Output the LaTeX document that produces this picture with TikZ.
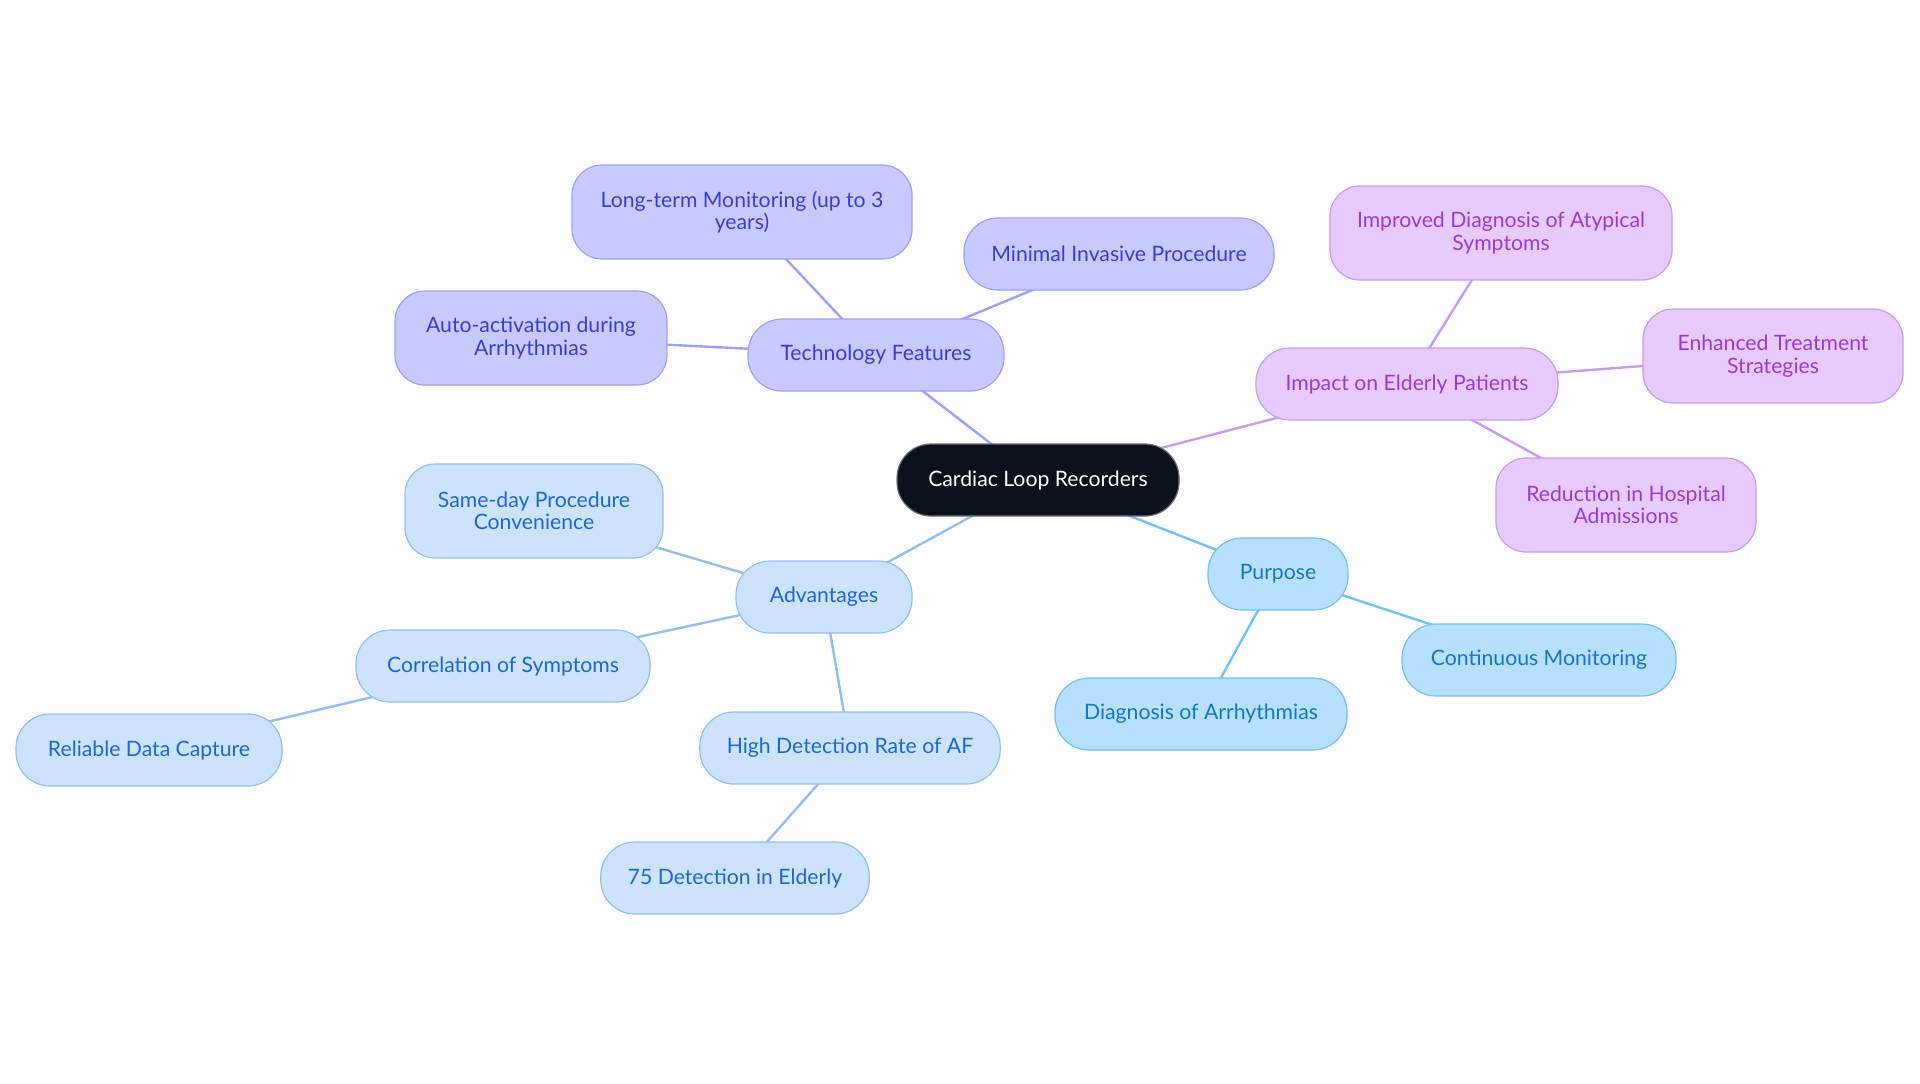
\documentclass[tikz,border=0pt]{standalone}
\usepackage{fontspec}
\setmainfont{Lato}
\usetikzlibrary{backgrounds}
\definecolor{rootfill}{HTML}{0B111B}
\definecolor{techfill}{HTML}{C8CAFD}
\definecolor{techline}{HTML}{9DA1F4}
\definecolor{techtext}{HTML}{3A3ECA}
\definecolor{elderfill}{HTML}{E8CBFD}
\definecolor{elderline}{HTML}{C99BF0}
\definecolor{eldertext}{HTML}{9A3AD4}
\definecolor{advfill}{HTML}{CDE3FB}
\definecolor{advline}{HTML}{92BFF0}
\definecolor{advtext}{HTML}{1D68CE}
\definecolor{purpfill}{HTML}{B6E0FD}
\definecolor{purpline}{HTML}{75C0EE}
\definecolor{purptext}{HTML}{1577C0}
\begin{document}
\begin{tikzpicture}[x=0.5pt, y=-0.5pt,
  topic/.style={rectangle, rounded corners=17pt, draw, line width=0.6pt, align=center,
    font=\fontsize{10.6}{11.2}\selectfont, inner xsep=13.5pt, minimum height=36pt},
  tall/.style={minimum height=47pt, rounded corners=15pt},
  tech/.style={topic, fill=techfill, draw=techline, text=techtext},
  elder/.style={topic, fill=elderfill, draw=elderline, text=eldertext},
  adv/.style={topic, fill=advfill, draw=advline, text=advtext},
  purp/.style={topic, fill=purpfill, draw=purpline, text=purptext},
  link/.style={line width=1.2pt}]
\useasboundingbox (0,0) rectangle (1920,1083);

\node[topic, fill=rootfill, draw=rootfill!60, text=white, minimum width=141pt] (root) at (1038,480) {Cardiac Loop Recorders};

\node[tech, minimum width=128pt] (techf) at (876,355) {Technology Features};
\node[tech, tall, minimum width=170pt] (longterm) at (742,212) {Long-term Monitoring (up to 3\\years)};
\node[tech, minimum width=155pt] (minimal) at (1119,254) {Minimal Invasive Procedure};
\node[tech, tall, minimum width=136pt] (autoact) at (531,338) {Auto-activation during\\Arrhythmias};

\node[elder, minimum width=151pt] (impact) at (1407,384) {Impact on Elderly Patients};
\node[elder, tall, minimum width=171pt] (improved) at (1501,233) {Improved Diagnosis of Atypical\\Symptoms};
\node[elder, tall, minimum width=130pt] (enhanced) at (1773,356) {Enhanced Treatment\\Strategies};
\node[elder, tall, minimum width=130pt] (reduction) at (1626,505) {Reduction in Hospital\\Admissions};

\node[purp, minimum width=70pt] (purpose) at (1278,574) {Purpose};
\node[purp, minimum width=137pt] (continuous) at (1539,660) {Continuous Monitoring};
\node[purp, minimum width=146pt] (diagnosis) at (1201,714) {Diagnosis of Arrhythmias};

\node[adv, minimum width=88pt] (advant) at (824,597) {Advantages};
\node[adv, tall, minimum width=129pt] (sameday) at (534,511) {Same-day Procedure\\Convenience};
\node[adv, minimum width=147pt] (correl) at (503,666) {Correlation of Symptoms};
\node[adv, minimum width=133pt] (reliable) at (149,750) {Reliable Data Capture};
\node[adv, minimum width=150pt] (highrate) at (850,748) {High Detection Rate of AF};
\node[adv, minimum width=134pt] (elderly75) at (735,878) {75 Detection in Elderly};

\begin{scope}[on background layer]
\draw[link, techline] (root.center) -- (techf.center);
\draw[link, techline] (techf.center) -- (longterm.center);
\draw[link, techline] (techf.center) -- (minimal.center);
\draw[link, techline] (techf.center) -- (autoact.center);
\draw[link, elderline] (root.center) -- (impact.center);
\draw[link, elderline] (impact.center) -- (improved.center);
\draw[link, elderline] (impact.center) -- (enhanced.center);
\draw[link, elderline] (impact.center) -- (reduction.center);
\draw[link, purpline] (root.center) -- (purpose.center);
\draw[link, purpline] (purpose.center) -- (continuous.center);
\draw[link, purpline] (purpose.center) -- (diagnosis.center);
\draw[link, advline] (root.center) -- (advant.center);
\draw[link, advline] (advant.center) -- (sameday.center);
\draw[link, advline] (advant.center) -- (correl.center);
\draw[link, advline] (correl.center) -- (reliable.center);
\draw[link, advline] (advant.center) -- (highrate.center);
\draw[link, advline] (highrate.center) -- (elderly75.center);
\end{scope}
\end{tikzpicture}
\end{document}
